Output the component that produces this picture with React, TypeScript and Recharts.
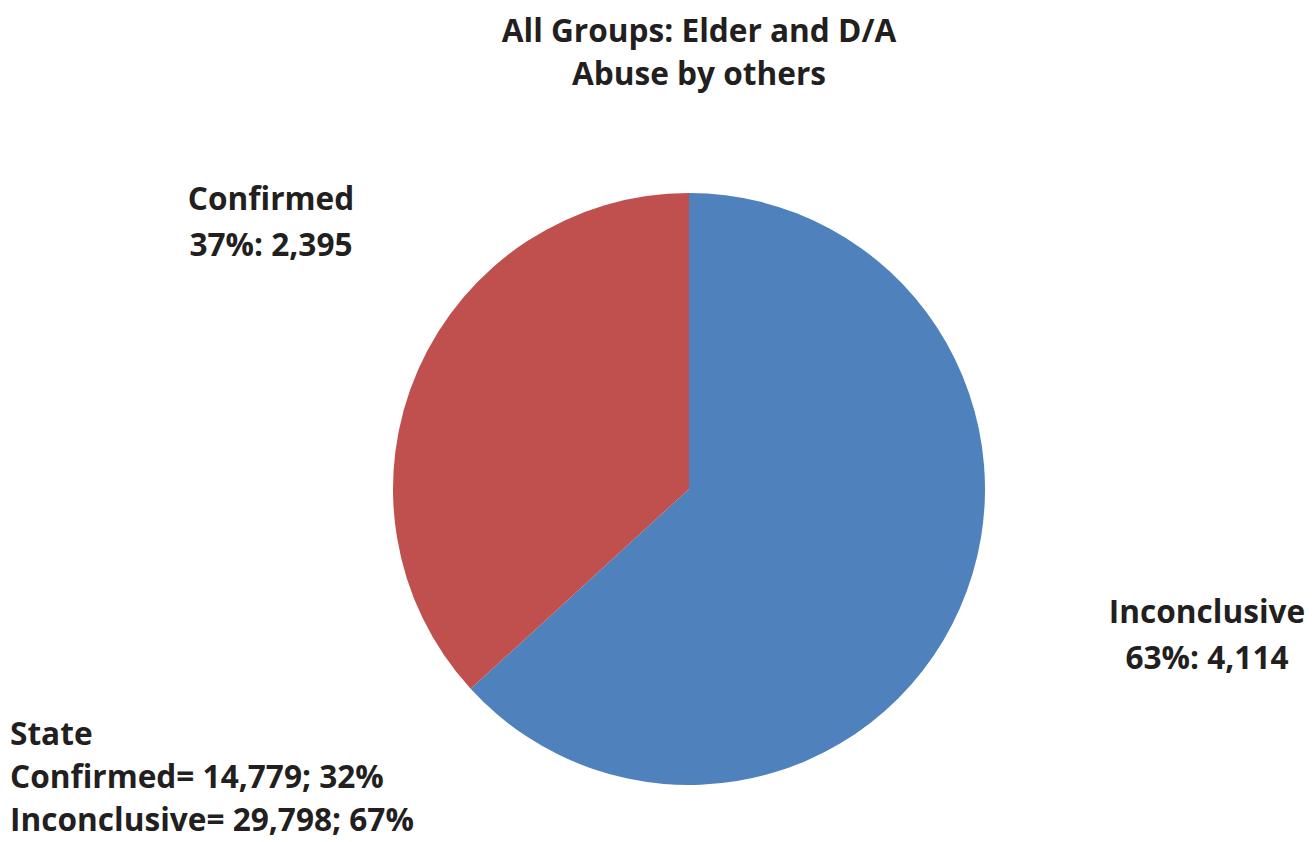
import React from "react"
import { PieChart, Pie, Cell } from "recharts"

const categories = ["Inconclusive", "Confirmed"]
const counts = [4114, 2395]
const percents = ["63%", "37%"]
const countLabels = ["4,114", "2,395"]
const colors = ["#4F81BD", "#C0504D"]

const titleLines = ["All Groups: Elder and D/A", "Abuse by others"]
const stateLines = ["State", "Confirmed= 14,779; 32%", "Inconclusive= 29,798; 67%"]

// label anchor centers (pixels) for each slice
const labelPos: Record<string, { x: number; y: number }> = {
  Inconclusive: { x: 1207, y: 612 },
  Confirmed: { x: 271, y: 199 },
}

const FONT = "'Open Sans', sans-serif"
const TEXT = "#231F20"
const FS = 31.6

const data = categories.map((name, i) => ({
  name,
  value: counts[i],
  pct: percents[i],
  countLabel: countLabels[i],
}))

function SliceLabel(props: any) {
  const pos = labelPos[props.name]
  if (!pos) return null
  return (
    <text
      x={pos.x}
      y={pos.y}
      textAnchor="middle"
      fontFamily={FONT}
      fontWeight={700}
      fontSize={FS}
      fill={TEXT}
    >
      <tspan x={pos.x} dy="0.35em">{props.name}</tspan>
      <tspan x={pos.x} dy={46}>{`${props.payload.pct}: ${props.payload.countLabel}`}</tspan>
    </text>
  )
}

export default function App() {
  return (
    <div style={{ position: "absolute", left: 0, top: 0, width: 1316, height: 842, background: "#fff" }}>
      <PieChart width={1316} height={842} margin={{ top: 0, right: 0, bottom: 0, left: 0 }}>
        <Pie
          data={data}
          dataKey="value"
          nameKey="name"
          cx={689}
          cy={489}
          outerRadius={296}
          startAngle={90}
          endAngle={-270}
          stroke="none"
          label={SliceLabel}
          labelLine={false}
          isAnimationActive={false}
        >
          {data.map((d, i) => (
            <Cell key={d.name} fill={colors[i]} />
          ))}
        </Pie>
      </PieChart>
      <div
        style={{
          position: "absolute",
          left: 0,
          top: 8,
          width: 1398,
          textAlign: "center",
          fontFamily: FONT,
          fontWeight: 700,
          fontSize: FS,
          lineHeight: "43px",
          color: TEXT,
        }}
      >
        {titleLines.map((t) => (
          <div key={t}>{t}</div>
        ))}
      </div>
      <div
        style={{
          position: "absolute",
          left: 10,
          top: 716,
          fontFamily: FONT,
          fontWeight: 700,
          fontSize: FS,
          lineHeight: "34px",
          color: TEXT,
          whiteSpace: "nowrap",
        }}
      >
        {stateLines.map((t, i) => (
          <div key={t} style={{ marginTop: i === 0 ? 0 : 9 }}>{t}</div>
        ))}
      </div>
    </div>
  )
}
